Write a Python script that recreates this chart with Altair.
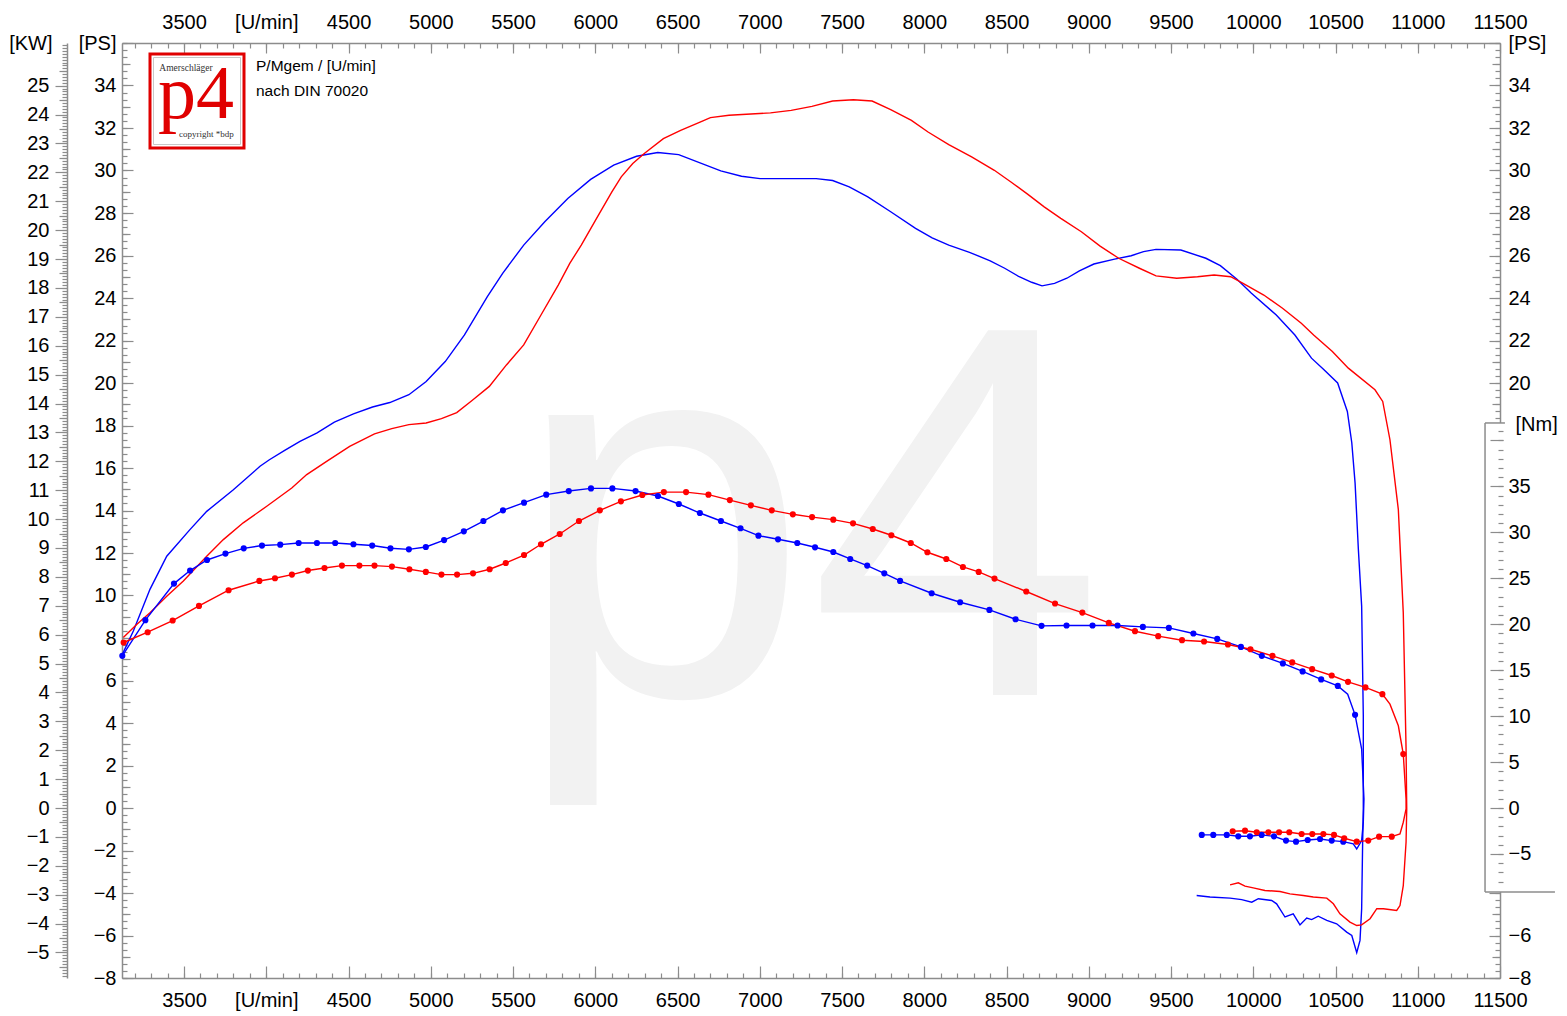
import altair as alt
import pandas as pd

# ---------------- data ----------------
# blue run: power [PS] over rpm (incl. run-down / loss part)
BP_RPM = [3125, 3192, 3293, 3395, 3536, 3638, 3800, 3962, 4019, 4112, 4205, 4309, 4414, 4530,
          4646, 4751, 4867, 4972, 5088, 5205, 5344, 5437, 5565, 5693, 5833, 5972, 6112, 6251,
          6380, 6507, 6763, 6889, 7002, 7343, 7443, 7544, 7657, 7796, 7947, 8048, 8149, 8275,
          8401, 8489, 8577, 8653, 8716, 8792, 8867, 8943, 9031, 9157, 9258, 9333, 9409, 9560,
          9712, 9800, 9901, 9989, 10140, 10253, 10354, 10430, 10513, 10572, 10599, 10619, 10639,
          10659, 10669, 10669, 10665, 10659, 10649, 10629, 10599, 10568, 10507, 10447, 10395,
          10355, 10325, 10284, 10243, 10193, 10142, 10112, 10031, 9991, 9930, 9859, 9737, 9656]
BP_PS = [7.23, 8.33, 10.29, 11.85, 13.10, 13.96, 14.98, 16.08, 16.39, 16.83, 17.25, 17.65, 18.16,
         18.55, 18.87, 19.08, 19.45, 20.07, 21.01, 22.26, 24.06, 25.16, 26.49, 27.59, 28.68, 29.58,
         30.25, 30.67, 30.85, 30.75, 29.98, 29.73, 29.62, 29.62, 29.53, 29.23, 28.76, 28.06, 27.28,
         26.83, 26.49, 26.15, 25.75, 25.40, 25.00, 24.74, 24.57, 24.69, 24.93, 25.28, 25.60, 25.83,
         25.99, 26.18, 26.29, 26.26, 25.87, 25.52, 24.88, 24.22, 23.20, 22.26, 21.17, 20.62, 20.00,
         18.66, 17.19, 15.30, 12.17, 9.50, 4.34, -0.05, -1.61, -4.74, -6.23, -6.81, -6.00, -5.84,
         -5.45, -5.29, -5.09, -5.25, -5.18, -5.50, -4.98, -5.13, -4.51, -4.35, -4.27, -4.43, -4.31,
         -4.24, -4.19, -4.12]

# red run: power [PS]
RP_RPM = [3131, 3212, 3293, 3395, 3496, 3638, 3739, 3860, 4003, 4155, 4246, 4367, 4507, 4658,
          4763, 4867, 4972, 5065, 5158, 5251, 5356, 5460, 5565, 5670, 5775, 5845, 5915, 6008,
          6101, 6158, 6228, 6298, 6414, 6519, 6637, 6700, 6813, 7065, 7191, 7317, 7443, 7569,
          7683, 7796, 7922, 8023, 8149, 8288, 8426, 8527, 8628, 8729, 8830, 8955, 9069, 9182,
          9308, 9409, 9535, 9661, 9762, 9863, 9938, 10064, 10178, 10292, 10367, 10481, 10578,
          10740, 10787, 10831, 10882, 10912, 10929, 10933, 10929, 10912, 10892, 10872, 10791,
          10751, 10710, 10659, 10629, 10588, 10527, 10487, 10447, 10365, 10304, 10223, 10163,
          10071, 10000, 9950, 9909, 9859]
RP_PS = [8.02, 8.64, 9.19, 9.97, 10.68, 11.85, 12.63, 13.42, 14.20, 15.06, 15.69, 16.31, 17.02,
         17.61, 17.85, 18.04, 18.12, 18.32, 18.61, 19.18, 19.84, 20.85, 21.79, 23.20, 24.61, 25.63,
         26.49, 27.75, 28.99, 29.70, 30.33, 30.80, 31.50, 31.89, 32.28, 32.49, 32.60, 32.71, 32.83,
         33.02, 33.27, 33.33, 33.27, 32.86, 32.36, 31.81, 31.22, 30.64, 30.01, 29.46, 28.89, 28.29,
         27.75, 27.12, 26.44, 25.87, 25.40, 25.04, 24.93, 25.00, 25.08, 25.00, 24.69, 24.14, 23.52,
         22.81, 22.26, 21.48, 20.70, 19.68, 19.13, 17.33, 14.04, 9.19, 2.77, -0.05, -1.60, -3.65,
         -4.59, -4.82, -4.74, -4.74, -5.21, -5.50, -5.53, -5.37, -4.98, -4.51, -4.24, -4.19, -4.12,
         -4.04, -3.93, -3.88, -3.76, -3.68, -3.52, -3.62]

# blue run: torque [Nm] (1 = measured point drawn as dot)
BT_RPM = [3125, 3265, 3439, 3537, 3640, 3752, 3863, 3974, 4085, 4197, 4308, 4419, 4530, 4644,
          4755, 4867, 4970, 5081, 5201, 5320, 5439, 5567, 5702, 5839, 5974, 6104, 6245, 6381,
          6508, 6636, 6764, 6883, 6992, 7111, 7228, 7336, 7447, 7550, 7653, 7757, 7853, 8045,
          8218, 8396, 8555, 8713, 8865, 9023, 9175, 9329, 9487, 9636, 9781, 9925, 10052, 10180,
          10300, 10413, 10514, 10574, 10619, 10659, 10673, 10669, 10659, 10629, 10608, 10547,
          10477, 10406, 10331, 10260, 10199, 10126, 10051, 9980, 9909, 9839, 9757, 9687]
BT_NM = [16.56, 20.44, 24.42, 25.84, 26.99, 27.69, 28.26, 28.56, 28.66, 28.84, 28.84, 28.84, 28.70,
         28.56, 28.26, 28.15, 28.40, 29.16, 30.11, 31.23, 32.39, 33.23, 34.10, 34.49, 34.78, 34.78,
         34.49, 33.95, 33.08, 32.10, 31.23, 30.44, 29.64, 29.24, 28.84, 28.37, 27.86, 27.10, 26.38,
         25.54, 24.71, 23.37, 22.39, 21.56, 20.54, 19.82, 19.86, 19.86, 19.86, 19.71, 19.60, 18.99,
         18.40, 17.53, 16.56, 15.73, 14.86, 13.99, 13.29, 12.39, 10.14, 6.41, 0.98, -1.55, -3.55,
         -4.46, -3.91, -3.66, -3.55, -3.37, -3.48, -3.66, -3.55, -3.08, -2.93, -3.08, -3.08, -2.93,
         -2.93, -2.93]
BT_DOT = [1] * 59 + [0, 1] + [0] * 6 + [1] * 13

# red run: torque [Nm]
RT_RPM = [3133, 3279, 3431, 3591, 3771, 3958, 4053, 4156, 4253, 4354, 4460, 4566, 4658, 4764,
          4870, 4970, 5065, 5160, 5257, 5358, 5456, 5567, 5670, 5784, 5901, 6028, 6156, 6286,
          6417, 6552, 6688, 6818, 6946, 7073, 7201, 7318, 7447, 7567, 7687, 7800, 7918, 8019,
          8134, 8235, 8331, 8427, 8620, 8795, 8961, 9122, 9281, 9422, 9567, 9701, 9846, 9983,
          10117, 10237, 10358, 10477, 10576, 10682, 10785, 10831, 10882, 10912, 10929, 10929,
          10912, 10892, 10842, 10765, 10699, 10629, 10553, 10491, 10426, 10359, 10294, 10219,
          10157, 10092, 10021, 9950, 9875]
RT_NM = [18.01, 19.13, 20.40, 21.99, 23.70, 24.71, 25.00, 25.40, 25.84, 26.12, 26.38, 26.38, 26.38,
         26.27, 25.98, 25.69, 25.40, 25.40, 25.54, 25.98, 26.66, 27.53, 28.70, 29.82, 31.23, 32.39,
         33.37, 34.06, 34.38, 34.38, 34.10, 33.51, 32.94, 32.39, 31.96, 31.66, 31.38, 30.98, 30.36,
         29.68, 28.84, 27.83, 27.10, 26.23, 25.69, 24.97, 23.56, 22.25, 21.27, 20.14, 19.24, 18.70,
         18.26, 18.12, 17.79, 17.28, 16.56, 15.84, 15.11, 14.42, 13.73, 13.12, 12.39, 11.30, 8.95,
         5.87, 0.98, -0.11, -1.55, -2.83, -3.12, -3.12, -3.55, -3.66, -3.29, -2.93, -2.83, -2.83,
         -2.83, -2.64, -2.64, -2.64, -2.64, -2.47, -2.53]
RT_DOT = [1] * 63 + [0, 0, 1] + [0] * 4 + [1] * 15

# ---------------- axes ----------------
RPM_DOMAIN = [3123, 11500]
PS_DOMAIN = [-8, 36]
KW_PER_PS = 0.7355
KW_DOMAIN = [PS_DOMAIN[0] * KW_PER_PS, PS_DOMAIN[1] * KW_PER_PS]
NM_DOMAIN = [-18.5, 83.25]

RPM_LABELS = list(range(3500, 11501, 500))
RPM_MINOR = list(range(3200, 11500, 100))
PS_LEFT_LABELS = list(range(-8, 35, 2))
PS_RIGHT_LABELS = [-8, -6] + list(range(20, 35, 2))
PS_MAJOR = list(range(-8, 37, 2))
PS_MED = list(range(-7, 36, 2))
PS_MINOR = [round(-8 + k / 3, 4) for k in range(0, 133)]
KW_LABELS = list(range(-5, 26))
KW_MED = [k + 0.5 for k in range(-6, 26)]
KW_MINOR = [round(k / 10, 1) for k in range(-58, 265)]
NM_LABELS = list(range(-5, 36, 5))
NM_MAJOR = list(range(-5, 41, 5))
NM_MINOR = list(range(-8, 42))
NM_FRAME_Y = [-9.14, 41.9]                 # extent of the framed Nm scale
NM_FRAME_X = [11409, 11560, 11530, 11834]  # left, fill right, top-line end, bottom-line end

W, H = 1378, 935
FONT = "Liberation Sans"
SERIF = "Liberation Serif"
GRAY = "#8c8c8c"
BLUE = "#0000ff"
RED = "#ff0000"
LOGO_RED = "#e00000"


def xs():
    return alt.Scale(domain=RPM_DOMAIN, nice=False, zero=False)


def sc(dom):
    return alt.Scale(domain=dom, nice=False, zero=False)


def curve(rpm, val, dot=None):
    d = {"rpm": rpm, "v": val, "i": list(range(len(rpm)))}
    if dot is not None:
        d["dot"] = dot
    return pd.DataFrame(d)


def line_layer(df, color, dom):
    return alt.Chart(df).mark_line(color=color, strokeWidth=1.4).encode(
        x=alt.X("rpm:Q", scale=xs(), axis=None),
        y=alt.Y("v:Q", scale=sc(dom), axis=None),
        order=alt.Order("i:Q"),
    )


def dot_layer(df, color, dom):
    return alt.Chart(df).transform_filter("datum.dot == 1").mark_circle(
        color=color, size=38, opacity=1).encode(
        x=alt.X("rpm:Q", scale=xs(), axis=None),
        y=alt.Y("v:Q", scale=sc(dom), axis=None),
    )


anchor = pd.DataFrame({"rpm": [RPM_DOMAIN[0]], "v": [0.0]})


def holder(dom, y_axis, x_axis=None):
    return alt.Chart(anchor).mark_point(opacity=0).encode(
        x=alt.X("rpm:Q", scale=xs(), axis=x_axis),
        y=alt.Y("v:Q", scale=sc(dom), axis=y_axis),
    )


def ticks(orient, values, size, offset=0, z=0):
    return alt.Axis(orient=orient, offset=offset, values=values, tickSize=size, ticks=True,
                    labels=False, domain=False, grid=False, title=None, zindex=z,
                    tickColor=GRAY, tickWidth=1.2)


rpm_expr = "datum.value == 4000 ? '[U/min]' : datum.label"

top_lab = alt.Axis(orient="top", values=RPM_LABELS, ticks=False, tickSize=0, labelPadding=11,
                   domain=True, format="d", labelExpr=rpm_expr, title=None)
bot_lab = alt.Axis(orient="bottom", values=RPM_LABELS, ticks=False, tickSize=0, labelPadding=12,
                   domain=True, format="d", labelExpr=rpm_expr, title=None)

ps_left = alt.Axis(orient="left", values=PS_LEFT_LABELS, ticks=False, tickSize=0, labelPadding=6,
                   domain=True, format="d", title="[PS]", titleAngle=0, titleX=-6, titleY=0,
                   titleAlign="right", titleBaseline="middle")
ps_right = alt.Axis(orient="right", values=PS_RIGHT_LABELS, ticks=False, tickSize=0, labelPadding=8,
                    domain=True, format="d", title="[PS]", titleAngle=0, titleX=8, titleY=0,
                    titleAlign="left", titleBaseline="middle")
kw_lab = alt.Axis(orient="left", offset=55, values=KW_LABELS, ticks=True, tickSize=12,
                  labelPadding=6, domain=True, format="d", title="[KW]", titleAngle=0,
                  titleX=-15, titleY=0, titleAlign="right", titleBaseline="middle")
nm_lab = alt.Axis(orient="right", offset=3, values=NM_LABELS, ticks=False, tickSize=0,
                  labelPadding=5, domain=False, format="d", zindex=1, title="[Nm]", titleAngle=0,
                  titleX=12, titleY=381, titleAlign="left", titleBaseline="middle")

layers = []

# watermark
layers.append(alt.Chart(anchor).mark_text(text="p4", font=FONT, fontSize=530, color="#f2f2f2",
                                          align="center", baseline="alphabetic")
              .encode(x=alt.value(687), y=alt.value(652)))

# logo box and texts
layers.append(alt.Chart(anchor).mark_rect(fill="white", stroke=LOGO_RED, strokeWidth=3)
              .encode(x=alt.value(28), x2=alt.value(122), y=alt.value(11), y2=alt.value(105)))
layers.append(alt.Chart(anchor).mark_rect(fill="white", stroke="#c8c8c8", strokeWidth=1)
              .encode(x=alt.value(31.5), x2=alt.value(118.5), y=alt.value(14.5), y2=alt.value(101.5)))
layers.append(alt.Chart(anchor).mark_text(text="Amerschläger", font=SERIF, fontSize=9.5,
                                          color="#333333", align="center", baseline="middle")
              .encode(x=alt.value(64), y=alt.value(25)))
layers.append(alt.Chart(anchor).mark_text(text="p4", font=SERIF, fontSize=76, color=LOGO_RED,
                                          align="left", baseline="alphabetic")
              .encode(x=alt.value(36), y=alt.value(75)))
layers.append(alt.Chart(anchor).mark_text(text="copyright *bdp", font=SERIF, fontSize=9,
                                          color="#333333", align="left", baseline="middle")
              .encode(x=alt.value(57), y=alt.value(91)))
layers.append(alt.Chart(anchor).mark_text(text="P/Mgem / [U/min]", font=FONT, fontSize=15.5,
                                          color="black", align="left", baseline="middle")
              .encode(x=alt.value(134), y=alt.value(23)))
layers.append(alt.Chart(anchor).mark_text(text="nach DIN 70020", font=FONT, fontSize=15.5,
                                          color="black", align="left", baseline="middle")
              .encode(x=alt.value(134), y=alt.value(48)))

# curves
bp = curve(BP_RPM, BP_PS)
rp = curve(RP_RPM, RP_PS)
bt = curve(BT_RPM, BT_NM, BT_DOT)
rt = curve(RT_RPM, RT_NM, RT_DOT)
layers += [
    line_layer(bp, BLUE, PS_DOMAIN),
    line_layer(rp, RED, PS_DOMAIN),
    line_layer(bt, BLUE, NM_DOMAIN),
    line_layer(rt, RED, NM_DOMAIN),
    dot_layer(bt, BLUE, NM_DOMAIN),
    dot_layer(rt, RED, NM_DOMAIN),
]

# frame of the Nm scale
frame = pd.DataFrame({"x0": [NM_FRAME_X[0]], "x1": [NM_FRAME_X[1]], "xt": [NM_FRAME_X[2]],
                      "xb": [NM_FRAME_X[3]], "y0": [NM_FRAME_Y[0]], "y1": [NM_FRAME_Y[1]]})
fx = alt.X("x0:Q", scale=xs(), axis=None)
layers.append(alt.Chart(frame).mark_rect(fill="white").encode(
    x=fx, x2="x1:Q", y=alt.Y("y0:Q", scale=sc(NM_DOMAIN), axis=None), y2="y1:Q"))
layers.append(alt.Chart(frame).mark_rule(color=GRAY, strokeWidth=1.5).encode(
    x=fx, y=alt.Y("y0:Q", scale=sc(NM_DOMAIN), axis=None), y2="y1:Q"))
layers.append(alt.Chart(frame).mark_rule(color=GRAY, strokeWidth=1.5).encode(
    x=fx, x2="xt:Q", y=alt.Y("y1:Q", scale=sc(NM_DOMAIN), axis=None)))
layers.append(alt.Chart(frame).mark_rule(color=GRAY, strokeWidth=1.5).encode(
    x=fx, x2="xb:Q", y=alt.Y("y0:Q", scale=sc(NM_DOMAIN), axis=None)))

# axis holders
layers += [
    holder(PS_DOMAIN, ps_left, top_lab),
    holder(PS_DOMAIN, ticks("right", PS_MAJOR, 11, -W), ticks("bottom", RPM_LABELS, 10, -H)),
    holder(PS_DOMAIN, ticks("right", PS_MED, 8, -W), ticks("bottom", RPM_MINOR, 5, -H)),
    holder(PS_DOMAIN, ticks("right", PS_MINOR, 5, -W), bot_lab),
    holder(PS_DOMAIN, ps_right, ticks("top", RPM_LABELS, 12, -H)),
    holder(PS_DOMAIN, ticks("left", PS_MAJOR, 11, -W), ticks("top", RPM_MINOR, 5, -H)),
    holder(PS_DOMAIN, ticks("left", PS_MED, 8, -W)),
    holder(PS_DOMAIN, ticks("left", PS_MINOR, 5, -W)),
    holder(KW_DOMAIN, kw_lab),
    holder(KW_DOMAIN, ticks("left", KW_MED, 8, 55)),
    holder(KW_DOMAIN, ticks("left", KW_MINOR, 5, 55)),
    holder(NM_DOMAIN, nm_lab),
    holder(NM_DOMAIN, ticks("left", NM_MAJOR, 13, -(W + 3), 1)),
    holder(NM_DOMAIN, ticks("left", NM_MINOR, 5, -(W + 3), 1)),
]

chart = (
    alt.layer(*layers)
    .resolve_scale(x="independent", y="independent")
    .properties(width=W, height=H, autosize=alt.AutoSizeParams(type="none"),
                padding={"left": 114, "top": 35, "right": 59, "bottom": 34})
    .configure_view(stroke="transparent")
    .configure_axis(labelFont=FONT, labelFontSize=20, labelColor="black", titleFont=FONT,
                    titleFontSize=20, titleFontWeight="normal", titleColor="black",
                    domainColor=GRAY, domainWidth=1.5, tickColor=GRAY, tickWidth=1.2,
                    grid=False, labelFlush=False, labelOverlap=False)
)

chart.save("out.html", embed_options={"renderer": "svg", "actions": False})
